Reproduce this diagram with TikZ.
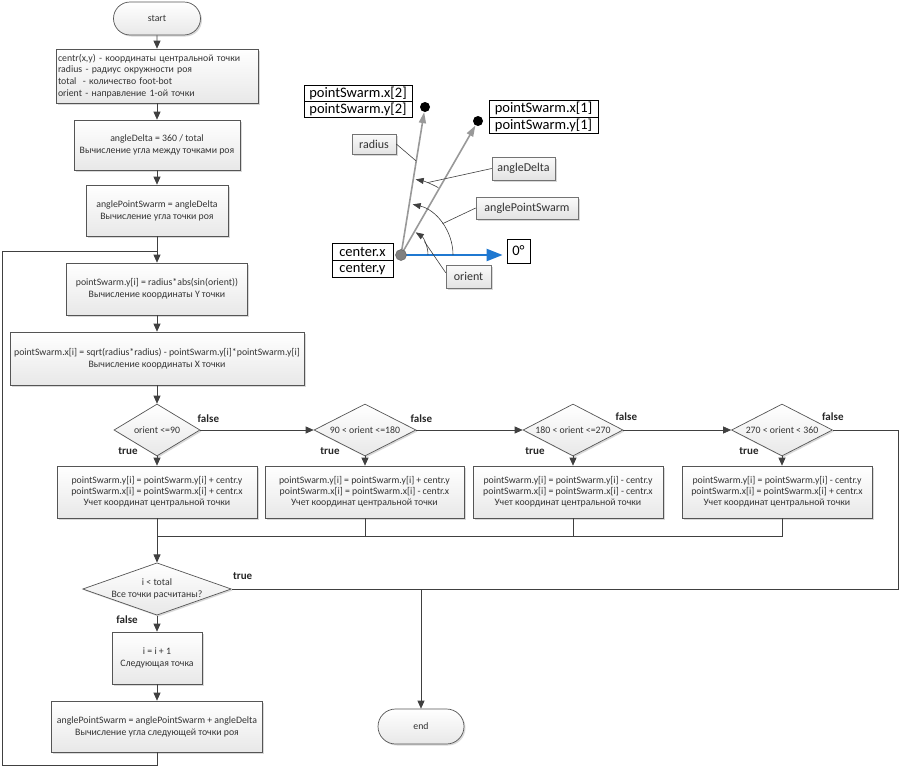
\documentclass[tikz,border=0pt]{standalone}
\usepackage{fontspec}
\setmainfont{Carlito}
\usetikzlibrary{arrows.meta,shapes.geometric,shapes.misc,shadows,calc}
\definecolor{bord}{HTML}{555555}
\definecolor{txt}{HTML}{333333}
\definecolor{lin}{HTML}{404040}
\definecolor{blu}{HTML}{1F78D1}
\definecolor{garr}{HTML}{999999}
\tikzset{
  flowfont/.style={font=\fontsize{9.8}{12}\selectfont, text=txt},
  shad/.style={drop shadow={shadow xshift=1.5pt,shadow yshift=-1.5pt,fill=black,opacity=0.15}},
  proc/.style={rectangle, draw=bord, line width=0.7pt, top color=white, bottom color=black!9, shad, flowfont, align=center, inner sep=0pt},
  term/.style={rounded rectangle, draw=bord, line width=0.7pt, top color=white, bottom color=black!9, shad, flowfont, inner sep=0pt},
  dec/.style={diamond, draw=bord, line width=0.7pt, top color=white, bottom color=black!9, shad, flowfont, align=center, inner sep=0pt},
  flow/.style={draw=lin, line width=0.7pt, -{Triangle[width=7pt,length=8pt]}},
  plain/.style={draw=lin, line width=0.7pt},
  lbl/.style={font=\fontsize{11}{13}\selectfont\bfseries, text=black!85},
  call/.style={rectangle, draw=black!55, line width=0.6pt, top color=black!2, bottom color=black!11, shad, font=\fontsize{12}{14}\selectfont, text=txt, inner sep=0pt},
  valbox/.style={rectangle, draw=black, line width=0.8pt, fill=white, font=\fontsize{14.5}{16}\selectfont, inner sep=0pt},
  garrow/.style={draw=garr, line width=1.6pt, -{Triangle[width=7pt,length=11pt]}},
  arcline/.style={draw=lin, line width=0.6pt, -{Triangle[width=6pt,length=8pt]}},
  callline/.style={draw=lin, line width=0.6pt},
  pt/.style={circle, fill=black, minimum size=10pt, inner sep=0pt},
}
\begin{document}
\begin{tikzpicture}[x=1pt,y=-1pt]
\fill[white] (0,0) rectangle (900,766);
\useasboundingbox (0,0) rectangle (900,766);

% ---------------- flowchart nodes ----------------
\node[term, minimum width=87pt, minimum height=33pt] (start) at (157,18.5) {start};
\node[proc, text width=198pt, align=left, inner xsep=2pt, minimum height=54pt, font=\fontsize{9.8}{11.7}\selectfont] (b1) at (157,76)
  {centr(x,y) - координаты центральной точки\\radius - радиус окружности роя\\total\ \ - количество foot-bot\\orient - направление 1-ой точки};
\node[proc, minimum width=166pt, minimum height=50pt] (b2) at (157,145)
  {angleDelta = 360 / total\\Вычисление угла между точками роя};
\node[proc, minimum width=142pt, minimum height=51pt] (b3) at (157,210.5)
  {anglePointSwarm = angleDelta\\Вычисление угла точки роя};
\node[proc, minimum width=181pt, minimum height=52pt] (b4) at (157,289)
  {pointSwarm.y[i] = radius*abs(sin(orient))\\Вычисление координаты Y точки};
\node[proc, minimum width=294pt, minimum height=53pt] (b5) at (157,358.5)
  {pointSwarm.x[i] = sqrt(radius*radius) - pointSwarm.y[i]*pointSwarm.y[i]\\Вычисление координаты X точки};

\node[dec, minimum width=86pt, minimum height=52pt, aspect=1.65] (d1) at (157,430) {orient <=90};
\node[dec, minimum width=102pt, minimum height=52pt, aspect=1.96] (d2) at (365,430) {90 < orient <=180};
\node[dec, minimum width=100pt, minimum height=52pt, aspect=1.92] (d3) at (573,430) {180 < orient <=270};
\node[dec, minimum width=101pt, minimum height=52pt, aspect=1.94] (d4) at (782,430) {270 < orient < 360};

\node[proc, minimum width=200pt, minimum height=52pt, font=\fontsize{9.8}{11.2}\selectfont] (b6) at (157,492)
  {pointSwarm.y[i] = pointSwarm.y[i] + centr.y\\pointSwarm.x[i] = pointSwarm.x[i] + centr.x\\Учет координат центральной точки};
\node[proc, minimum width=199pt, minimum height=52pt, font=\fontsize{9.8}{11.2}\selectfont] (b7) at (364.5,492)
  {pointSwarm.y[i] = pointSwarm.y[i] + centr.y\\pointSwarm.x[i] = pointSwarm.x[i] - centr.x\\Учет координат центральной точки};
\node[proc, minimum width=190pt, minimum height=52pt, font=\fontsize{9.8}{11.2}\selectfont] (b8) at (568,492)
  {pointSwarm.y[i] = pointSwarm.y[i] - centr.y\\pointSwarm.x[i] = pointSwarm.x[i] - centr.x\\Учет координат центральной точки};
\node[proc, minimum width=190pt, minimum height=52pt, font=\fontsize{9.8}{11.2}\selectfont] (b9) at (777,492)
  {pointSwarm.y[i] = pointSwarm.y[i] - centr.y\\pointSwarm.x[i] = pointSwarm.x[i] + centr.x\\Учет координат центральной точки};

\node[dec, minimum width=145pt, minimum height=51pt, aspect=2.84] (d5) at (157,589)
  {i < total\\Все точки расчитаны?};
\node[proc, minimum width=90pt, minimum height=52pt] (b10) at (157,658)
  {i = i + 1\\Следующая точка};
\node[proc, minimum width=211pt, minimum height=51pt] (b11) at (157,726.5)
  {anglePointSwarm = anglePointSwarm + angleDelta\\Вычисление угла следующей точки роя};
\node[term, minimum width=86pt, minimum height=35pt] (end) at (421,726.5) {end};

% ---------------- flowchart connectors ----------------
\draw[flow] (start) -- (b1);
\draw[flow] (b1) -- (b2);
\draw[flow] (b2) -- (b3);
\draw[flow] (b3) -- (b4);
\draw[flow] (b4) -- (b5);
\draw[flow] (b5) -- (d1);
\draw[flow] (d1.east) -- (d2.west);
\draw[flow] (d2.east) -- (d3.west);
\draw[flow] (d3.east) -- (d4.west);
\draw[flow] (d1.south) -- (d1.south |- b6.north);
\draw[flow] (d2.south) -- (d2.south |- b7.north);
\draw[flow] (d3.south) -- (d3.south |- b8.north);
\draw[flow] (d4.south) -- (d4.south |- b9.north);

\coordinate (m) at (157,536);
\draw[plain] (d2.south |- b7.south) |- (m);
\draw[plain] (d3.south |- b8.south) |- (m);
\draw[plain] (d4.south |- b9.south) |- (m);
\draw[flow] (d1.south |- b6.south) -- (d5.north);

\draw[plain] (d4.east) -- ++(65,0) |- (d5.east);
\draw[flow] (d5.east -| end.north) -- (end.north);
\draw[flow] (d5.south) -- (b10.north);
\draw[flow] (b10.south) -- (b11.north);

\coordinate (jn) at (157,251);
\coordinate (lbot) at (2,765);
\draw[plain] (b11.south) |- (lbot) |- (jn);

% labels
\node[lbl] at ($(d1.east)+(8,-11)$) {false};
\node[lbl] at ($(d2.east)+(5,-11)$) {false};
\node[lbl] at ($(d3.east)+(3,-13)$) {false};
\node[lbl] at ($(d4.east)+(0,-13)$) {false};
\node[lbl] at ($(d1.south)+(-29,-5)$) {true};
\node[lbl] at ($(d2.south)+(-35,-5)$) {true};
\node[lbl] at ($(d3.south)+(-38,-5)$) {true};
\node[lbl] at ($(d4.south)+(-33,-5)$) {true};
\node[lbl] at ($(d5.east)+(11,-13)$) {true};
\node[lbl] at ($(d5.south)+(-30,4)$) {false};

% ---------------- geometry sketch ----------------
\coordinate (C) at (401,255);
\node[pt] (dot2) at (425,107) {};
\node[pt] (dot1) at (478,121) {};
\node[valbox, minimum width=108pt, minimum height=16pt] (p2x) at (358,93) {pointSwarm.x[2]};
\node[valbox, minimum width=108pt, minimum height=16pt, anchor=north] (p2y) at (p2x.south) {pointSwarm.y[2]};
\node[valbox, minimum width=109pt, minimum height=17pt] (p1x) at (543.5,108.5) {pointSwarm.x[1]};
\node[valbox, minimum width=109pt, minimum height=16pt, anchor=north] (p1y) at (p1x.south) {pointSwarm.y[1]};
\node[valbox, minimum width=61pt, minimum height=17pt] (cx) at (362.5,251.5) {center.x};
\node[valbox, minimum width=61pt, minimum height=17pt, anchor=north] (cy) at (cx.south) {center.y};
\node[valbox, minimum width=23pt, minimum height=24pt] (zero) at (518.5,251) {0°};

\node[call, minimum width=44pt, minimum height=20pt] (rad) at (374,144) {radius};
\node[call, minimum width=63pt, minimum height=23pt] (ad) at (523.5,168.5) {angleDelta};
\node[call, minimum width=102pt, minimum height=22pt] (aps) at (527,208) {anglePointSwarm};
\node[call, minimum width=45pt, minimum height=23pt] (ori) at (468.5,276.5) {orient};

\draw[garrow] (C) -- (dot2);
\draw[garrow] (C) -- (dot1);
\draw[draw=blu, line width=2.2pt, -{Triangle[width=12pt,length=16pt]}] (C) -- ($(zero.west |- C)+(-4,0)$);

\draw[arcline] ($(C)+(27pt,0pt)$) arc[start angle=0, end angle=57, radius=27pt];
\draw[arcline] ($(C)+(52pt,0pt)$) arc[start angle=0, end angle=77, radius=52pt];
\draw[arcline] ($(C)+(61:77pt)$) arc[start angle=61, end angle=79, radius=77pt];

\draw[callline] (rad.east) -- ($(C)!0.635!(dot2)$);
\draw[callline] (ad.west) -- ($(C)+(70:77pt)$);
\draw[callline] (aps.west) -- ($(C)+(37:52pt)$);
\draw[callline] ($(ori.north west)+(0,8)$) -- ($(C)+(30:27pt)$);

\node[circle, fill=black!50, draw=black!60, line width=0.5pt, minimum size=11pt, inner sep=0pt] (cdot) at (C) {};
\end{tikzpicture}
\end{document}
